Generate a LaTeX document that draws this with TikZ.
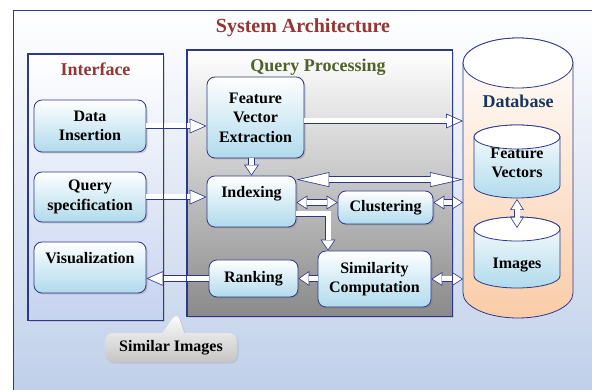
\documentclass[tikz,border=0pt]{standalone}
\usepackage{fontspec}
\setmainfont{Liberation Serif}
\usetikzlibrary{arrows.meta,shadows,shapes.callouts}

\definecolor{rim}{RGB}{46,56,136}
\definecolor{titlered}{RGB}{148,54,52}
\definecolor{qpgreen}{RGB}{79,98,40}
\definecolor{dbnavy}{RGB}{23,54,93}
\definecolor{boxblue}{RGB}{176,218,236}
\definecolor{skyblue}{RGB}{192,208,234}
\definecolor{paneblue}{RGB}{198,211,240}
\definecolor{peach}{RGB}{250,204,168}
\definecolor{procgray}{RGB}{138,138,138}

% cylinder: centre x, top y, bottom y, x radius, y radius, body style
\newcommand{\drum}[6]{%
  \path[#6] (#1-#4,#2) -- (#1-#4,#3)
    arc[start angle=180, end angle=0, x radius=#4, y radius=#5]
    -- (#1+#4,#2)
    arc[start angle=0, end angle=-180, x radius=#4, y radius=#5] -- cycle;
  \draw[rim, line width=0.8pt, fill=white] (#1,#2) ellipse[x radius=#4, y radius=#5];
}

\tikzset{
  unit/.style={draw=rim, line width=0.8pt, rounded corners=8pt,
    top color=white, middle color=boxblue!35, bottom color=boxblue,
    align=center, inner sep=2pt,
    font=\fontsize{16}{19.5}\selectfont\bfseries,
    drop shadow={shadow xshift=1.5pt, shadow yshift=-1.5pt, opacity=0.35}},
  tag/.style={align=center, font=\fontsize{16}{19.5}\selectfont\bfseries},
  panel/.style={draw=rim, line width=0.8pt, inner sep=0pt,
    drop shadow={shadow xshift=2pt, shadow yshift=-2pt, opacity=0.25}},
  heading/.style={anchor=base, font=\fontsize{18}{20}\selectfont\bfseries},
  % block arrows: tip length, tip width, inner shorten, inner tip scale
  pipe/.style n args={4}{draw=rim, line width=6.5pt,
    -{Triangle[length=#1, width=#2, line width=0pt]},
    postaction={draw=white, line width=5pt, shorten >=#3,
      -{Triangle[length=#1, width=#2, line width=0pt, scale=#4]}}},
  twin/.style n args={4}{draw=rim, line width=6.5pt,
    {Triangle[length=#1, width=#2, line width=0pt]}-{Triangle[length=#1, width=#2, line width=0pt]},
    postaction={draw=white, line width=5pt, shorten >=#3, shorten <=#3,
      {Triangle[length=#1, width=#2, line width=0pt, scale=#4]}-{Triangle[length=#1, width=#2, line width=0pt, scale=#4]}}},
  feedarrow/.style={pipe={17pt}{15pt}{1.86pt}{0.846}},
  shortarrow/.style={pipe={11pt}{15pt}{1.33pt}{0.811}},
  longpair/.style={twin={33pt}{15pt}{3.38pt}{0.875}},
  shortpair/.style={twin={11pt}{14pt}{1.4pt}{0.805}},
  dbbody/.style={draw=rim, line width=0.8pt, top color=white, middle color=peach!70, bottom color=peach},
  vecbody/.style={draw=rim, line width=0.8pt, top color=white, bottom color=boxblue}
}

\begin{document}
\begin{tikzpicture}[x=1pt, y=-1pt]
  % Page and outer frame
  \useasboundingbox (0,0) rectangle (592,390);
  \fill[white] (0,0) rectangle (592,390);
  \shade[top color=white, bottom color=skyblue] (13,10) rectangle (592,390);
  \draw[rim, line width=0.8pt] (13,390) -- (13,10) -- (592,10);

  \node[heading, text=titlered, font=\fontsize{20}{22}\selectfont\bfseries] (title) at (303,33) {System Architecture};

  % Panels
  \node[panel, top color=white, bottom color=paneblue, minimum width=135, minimum height=266] (iface) at (95.5,187) {};
  \node[panel, top color=white, middle color=procgray!45, bottom color=procgray, minimum width=265, minimum height=266] (qproc) at (319.5,183) {};
  \node[heading, text=titlered] (ifaceTitle) at (95.5,76) {Interface};
  \node[heading, text=qpgreen] (qprocTitle) at (318,72) {Query Processing};

  % Interface units
  \node[unit, minimum width=112, minimum height=52] (din) at (90,126) {Data\\Insertion};
  \node[unit, minimum width=112, minimum height=50] (qspec) at (90,197) {Query\\specification};
  \node[unit, minimum width=112, minimum height=51] (vis) at (90,267.5) {Visualization\\\mbox{}};

  % Query processing units
  \node[unit, minimum width=97, minimum height=81] (fve) at (255.5,117.5) {Feature\\Vector\\Extraction};
  \node[unit, minimum width=89, minimum height=51] (idx) at (251.5,201.5) {Indexing\\\mbox{}};
  \node[unit, minimum width=95, minimum height=33] (clu) at (385.5,207.5) {Clustering};
  \node[unit, minimum width=113, minimum height=56] (sim) at (374.5,279) {Similarity\\Computation};
  \node[unit, minimum width=89, minimum height=37] (rank) at (253.5,278.5) {Ranking};

  % Database with its two stores
  \drum{518}{63}{293}{55}{25}{dbbody}
  \drum{517}{137}{186}{43}{12}{vecbody}
  \drum{517}{229}{276}{43}{12}{vecbody}
  \node[heading, text=dbnavy] (db) at (518,108) {Database};
  \node[tag] (fv) at (517,163) {Feature\\Vectors};
  \node[tag] (img) at (517,265) {Images};
  \coordinate (dbL) at (463,63);
  \coordinate (fvB) at (517,199);
  \coordinate (imgT) at (517,228);

  % Arrows
  \coordinate (fveOut) at ([yshift=-3.5pt]fve.east);
  \coordinate (idxTop) at ([yshift=-4pt]idx.north east);
  \coordinate (cluIn) at ([yshift=5pt]clu.west);
  \coordinate (idxOut) at ([yshift=-12.5pt]idx.east);
  \coordinate (simIn) at ([xshift=-46.5pt]sim.north);
  \draw[feedarrow] (din.east) -- (din.east -| fve.west);
  \draw[feedarrow] (qspec.east) -- (qspec.east -| idx.west);
  \draw[feedarrow] (rank.west) -- (rank.west -| vis.east);
  \draw[feedarrow] (fveOut) -- (fveOut -| dbL);
  \draw[shortarrow] (idx.north |- fve.south) -- (idx.north);
  \draw[shortarrow] (idxOut) -| (simIn);
  \draw[shortarrow] (sim.west |- rank.east) -- (rank.east);
  \draw[longpair] (idxTop) -- (idxTop -| dbL);
  \draw[shortpair] (cluIn -| idx.east) -- (cluIn);
  \draw[shortpair] (cluIn -| clu.east) -- (cluIn -| dbL);
  \draw[shortpair] (sim.east) -- (sim.east -| dbL);
  \draw[shortpair] (fvB) -- (imgT);

  % Panel edges over the arrows
  \draw[rim, line width=0.8pt] (iface.north west) rectangle (iface.south east);
  \draw[rim, line width=0.8pt] (qproc.north west) rectangle (qproc.south east);

  % Result callout
  \node[rectangle callout, rounded corners=8pt, top color=white, bottom color=gray!45,
    minimum width=132, minimum height=29, callout absolute pointer={(177,312)},
    callout pointer width=22pt, font=\fontsize{16}{19.5}\selectfont\bfseries,
    drop shadow={shadow xshift=1.5pt, shadow yshift=-1.5pt, opacity=0.2}] (simImg) at (171,347.5) {Similar Images};
\end{tikzpicture}
\end{document}
